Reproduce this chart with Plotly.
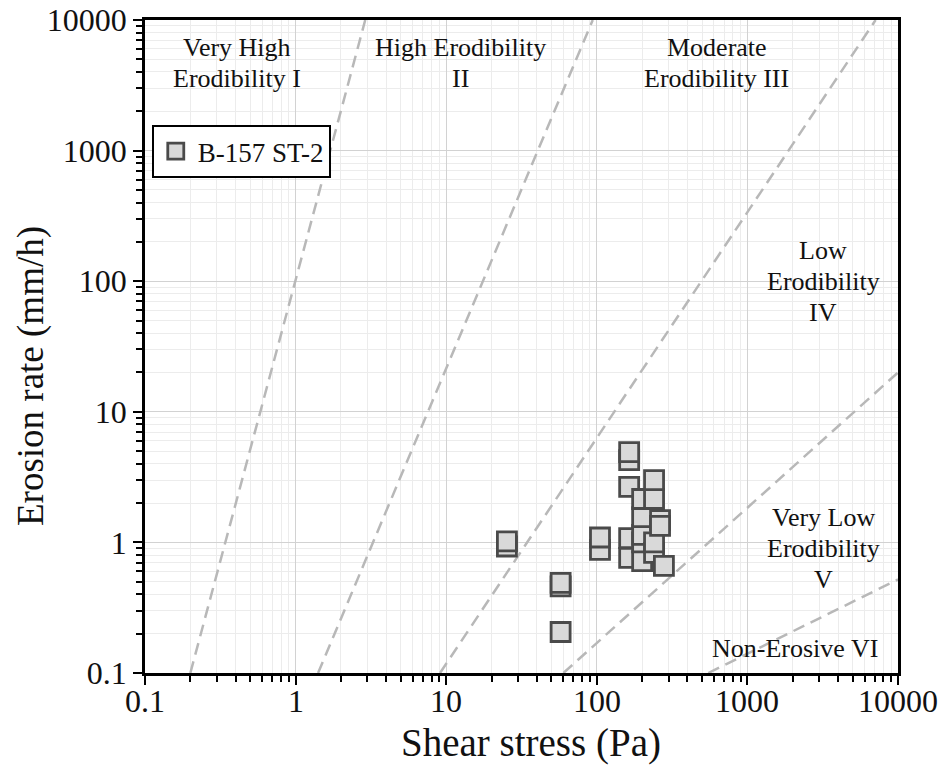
import math
import plotly.graph_objects as go

# Measured data (shear stress Pa, erosion rate mm/h)
shear_stress = [25.3, 25.3, 57.5, 57.5, 57.5, 105, 105,
                164, 164, 164, 164, 164,
                200, 200, 200, 200, 200,
                240, 240, 240, 240,
                263, 263, 279]
erosion_rate = [0.93, 1.02, 0.46, 0.49, 0.206, 0.875, 1.09,
                4.27, 4.92, 2.66, 0.76, 1.08,
                0.72, 1.0, 1.14, 1.56, 2.15,
                0.83, 1.0, 2.15, 3.0,
                1.48, 1.34, 0.66]

# Erodibility category boundaries (end points)
bound_x = [[0.2, 2.9], [1.41, 94], [9.1, 7100], [60, 10000], [550, 10000]]
bound_y = [[0.1, 10000], [0.1, 10000], [0.1, 10000], [0.1, 20], [0.1, 0.52]]

# Category labels: text, log10 x of centre, log10 y of first line
zone_text = ["Very High<br>Erodibility I", "High Erodibility<br>II",
             "Moderate<br>Erodibility III", "Low<br>Erodibility<br>IV",
             "Very Low<br>Erodibility<br>V", "Non-Erosive VI"]
zone_lx = [-0.389, 1.092, 2.798, 3.502, 3.502, 3.316]
zone_ly = [3.79, 3.79, 3.79, 2.238, 0.19, -0.809]
LINE_STEP = 31 / 130.6  # line spacing in log10 y units

tick_vals = [0.1, 1, 10, 100, 1000, 10000]
tick_text = ["0.1", "1", "10", "100", "1000", "10000"]
minor_mult = [2, 3, 4, 5, 6, 7, 8, 9]
minor_vals = [m * t for t in tick_vals[:-1] for m in minor_mult]

x_title = "Shear stress (Pa)"
y_title = "Erosion rate (mm/h)"

FONT = "Liberation Serif, Times New Roman, serif"

fig = go.Figure()
for bx, by in zip(bound_x, bound_y):
    fig.add_trace(go.Scatter(x=bx, y=by, mode="lines", showlegend=False,
                             line=dict(color="#b8b8b8", width=2.5, dash="12px,7px"),
                             hoverinfo="skip"))

fig.add_trace(go.Scatter(x=shear_stress, y=erosion_rate, mode="markers",
                         name="B-157 ST-2",
                         marker=dict(symbol="square", size=19, color="#d9d9d9",
                                     line=dict(color="#4a4a4a", width=2.8))))

for t, lx, ly in zip(zone_text, zone_lx, zone_ly):
    for i, line in enumerate(t.split("<br>")):
        fig.add_annotation(x=lx, y=ly - i * LINE_STEP, xref="x", yref="y",
                           text=line, showarrow=False,
                           font=dict(family=FONT, size=26, color="#111111"),
                           align="center")

# X tick labels placed close under the axis, as in the reference
for v, t in zip(tick_vals, tick_text):
    fig.add_annotation(x=math.log10(v), y=-(701 - 673) / 653, xref="x", yref="paper",
                       text=t, showarrow=False, xanchor="center", yanchor="middle",
                       font=dict(family=FONT, size=32, color="#111111"))

# Axis titles
fig.add_annotation(x=(531 - 145) / 753, y=-(743 - 673) / 653, xref="paper", yref="paper",
                   text=x_title, showarrow=False, xanchor="center", yanchor="middle",
                   font=dict(family=FONT, size=39, color="#111111"))
fig.add_annotation(x=-(145 - 31) / 753, y=(673 - 376) / 653, xref="paper", yref="paper",
                   text=y_title, showarrow=False, textangle=-90,
                   xanchor="center", yanchor="middle",
                   font=dict(family=FONT, size=37, color="#111111"))

axis_common = dict(
    type="log", range=[-1, 4], automargin=False,
    tickmode="array", tickvals=tick_vals, ticktext=tick_text,
    ticks="outside", ticklen=9, tickwidth=2, tickcolor="black",
    showline=True, linecolor="black", linewidth=2.5, mirror=True,
    showgrid=True, gridcolor="#d2d2d2", gridwidth=1.2,
    zeroline=False,
    tickfont=dict(family=FONT, size=32, color="#111111"),
    minor=dict(tickmode="array", tickvals=minor_vals, ticks="outside",
               ticklen=6, tickwidth=2, tickcolor="black",
               showgrid=True, gridcolor="#ececec", gridwidth=1),
)

fig.update_xaxes(**axis_common, showticklabels=False)
fig.update_yaxes(**axis_common)

fig.update_layout(
    width=943, height=773,
    margin=dict(l=145, r=45, t=20, b=100),
    paper_bgcolor="white", plot_bgcolor="white",
    legend=dict(x=0.009, y=0.839, xanchor="left", yanchor="top",
                bgcolor="white", bordercolor="black", borderwidth=2,
                font=dict(family=FONT, size=27, color="#111111"),
                itemwidth=34),
)

fig.write_html("out.html")
